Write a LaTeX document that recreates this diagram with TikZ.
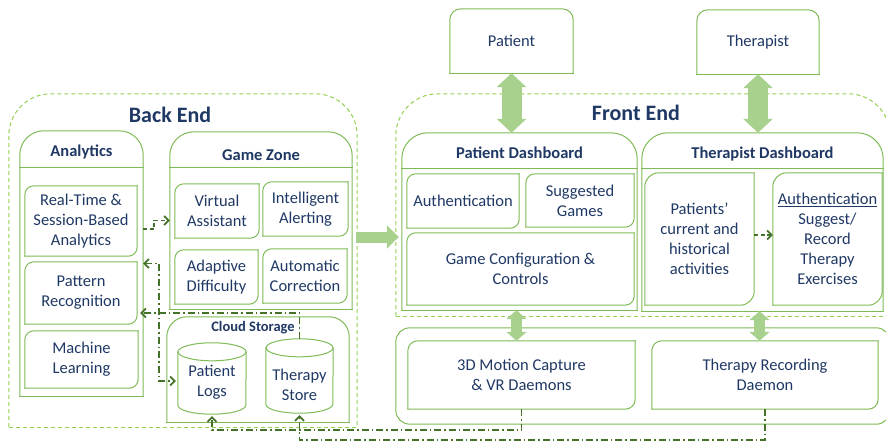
\documentclass[tikz,border=0pt]{standalone}
\usepackage{fontspec}
\setmainfont{Carlito}
\usetikzlibrary{arrows.meta,calc}
\definecolor{bline}{RGB}{126,186,86}
\definecolor{dline}{RGB}{146,208,80}
\definecolor{navy}{RGB}{31,56,100}
\definecolor{conn}{RGB}{68,114,42}
\definecolor{barrow}{RGB}{169,209,142}
\tikzset{
 boxline/.style={draw=bline, line width=1pt, line cap=rect},
 bx/.style 2 args={inner sep=0pt, align=center, text=navy, font=\fontsize{16.5}{20}\selectfont, minimum width=#1pt, minimum height=#2pt},
 txt/.style={inner sep=0pt, align=center, text=navy, font=\fontsize{16.5}{20}\selectfont},
 hdr/.style={inner sep=0pt, text=navy, font=\fontsize{16.5}{20}\selectfont\bfseries},
 ttl/.style={inner sep=0pt, text=navy, font=\fontsize{22}{26}\selectfont\bfseries},
 outerdash/.style={draw=dline, line width=1pt, dash pattern=on 4pt off 3pt},
 dconn/.style={draw=conn, line width=1.7pt, dash pattern=on 4pt off 2.5pt},
 ddconn/.style={draw=conn, line width=1.7pt, dash pattern=on 7pt off 3pt on 1.5pt off 3pt},
 barb/.tip={Straight Barb[length=4.5pt,width=9pt]},
 bigarrow/.style={draw=barrow, line width=20pt, {Triangle[length=14pt,width=29pt]}-{Triangle[length=14pt,width=29pt]}},
 smallarrow/.style={draw=barrow, line width=11pt, {Triangle[length=9pt,width=20pt]}-{Triangle[length=9pt,width=20pt]}},
 rarrow/.style={draw=barrow, line width=11pt, -{Triangle[length=12pt,width=23pt]}}
}
\newcommand\rdiag[2][9pt]{%
 \draw[boxline,rounded corners=#1] (#2.north east) -- (#2.north west) -- (#2.south west);
 \draw[boxline,rounded corners=#1] (#2.south west) -- (#2.south east) -- (#2.north east);}
\newcommand\rtop[2][24pt]{%
 \draw[boxline,rounded corners=#1] (#2.south west) -- (#2.north west) -- (#2.north east) -- (#2.south east);
 \draw[boxline] (#2.south west) -- (#2.south east);}
\newcommand\hdrline[2]{%
 \draw[boxline] ([yshift=-#2]#1.north west) -- ([yshift=-#2]#1.north east);}
\newcommand\cyl[3]{%
 \draw[boxline] ([yshift=-#3]#1.north) ellipse[x radius=#2, y radius=#3];
 \draw[boxline] ([yshift=-#3]#1.north west) -- ([yshift=#3]#1.south west) arc[start angle=180,end angle=360,x radius=#2,y radius=#3] -- ([yshift=-#3]#1.north east);}
\begin{document}
\begin{tikzpicture}[x=1pt,y=-1pt]
\useasboundingbox (0,0) rectangle (886,442);
% outer dashed regions
\node[bx={348}{333}] (be) at (183,260.5) {};
\node[bx={494}{222}] (fe) at (643,205) {};
\draw[outerdash,rounded corners=42pt] (be.south west) -- (be.north west) -- (be.north east) -- (be.south east);
\draw[outerdash] (be.south west) -- (be.south east);
\draw[outerdash,rounded corners=42pt] (fe.south west) -- (fe.north west) -- (fe.north east) -- (fe.south east);
\draw[outerdash] (fe.south west) -- (fe.south east);
\node[ttl] (beT) at (170,115) {Back End};
\node[ttl] (feT) at (636,113) {Front End};
% Analytics
\node[bx={123}{265}] (an) at (81.5,263.5) {};
\rtop{an}\hdrline{an}{37pt}
\node[hdr] (anT) at (81.5,152) {Analytics};
\node[bx={112}{70}] (rt) at (81,221) {Real-Time \&\\Session-Based\\Analytics};
\node[bx={112}{62}] (pr) at (81,293) {Pattern\\Recognition};
\node[bx={113}{57}] (ml) at (81.5,359.5) {Machine\\Learning};
\rdiag{rt}\rdiag{pr}\rdiag{ml}
% Game Zone
\node[bx={182}{177}] (gz) at (261,220.5) {};
\rtop{gz}\hdrline{gz}{36pt}
\node[hdr] (gzT) at (261,155) {Game Zone};
\node[bx={84}{54}] (va) at (217,211) {Virtual\\Assistant};
\node[bx={85}{54}] (ia) at (305.5,209) {Intelligent\\Alerting};
\node[bx={83}{54}] (ad) at (216.5,277) {Adaptive\\Difficulty};
\node[bx={84}{54}] (ac) at (305,276) {Automatic\\Correction};
\rdiag{va}\rdiag{ia}\rdiag{ad}\rdiag{ac}
% Cloud storage
\node[bx={182}{105}] (cs) at (258,369.5) {};
\rtop[20pt]{cs}
\node[hdr,font=\fontsize{14.5}{17}\selectfont\bfseries] (csT) at (253,328) {Cloud Storage};
\node[bx={68}{71}] (pl) at (212,378.5) {};
\node[bx={67}{74}] (ts) at (299.5,376) {};
\cyl{pl}{34pt}{9pt}
\cyl{ts}{33.5pt}{9pt}
\node[txt] (plx) at (212,382) {Patient\\Logs};
\node[txt] (tsx) at (299.5,385) {Therapy\\Store};
% Patient dashboard
\node[bx={235}{177}] (pd) at (519.5,221.5) {};
\rtop[26pt]{pd}\hdrline{pd}{36pt}
\node[hdr] (pdT) at (519.5,153) {Patient Dashboard};
\node[bx={112}{54}] (au) at (463,201) {Authentication};
\node[bx={108}{53}] (sg) at (580,200.5) {Suggested\\Games};
\node[bx={227}{72}] (gc) at (520.5,269) {Game Configuration \&\\Controls};
\rdiag{au}\rdiag{sg}\rdiag{gc}
% Therapist dashboard
\node[bx={241}{178}] (td) at (762.5,222) {};
\rtop[26pt]{td}\hdrline{td}{36pt}
\node[hdr] (tdT) at (762.5,154) {Therapist Dashboard};
\node[bx={109}{132}] (pc) at (699.5,239) {Patients’\\current and\\historical\\activities};
\node[bx={109}{132}] (as) at (827.5,239) {\underline{Authentication}\\Suggest/\\Record\\Therapy\\Exercises};
\rdiag[14pt]{pc}\rdiag[14pt]{as}
% bottom daemons
\node[bx={494}{96}] (bf) at (643,376) {};
\draw[boxline,rounded corners=14pt] (bf.north west) rectangle (bf.south east);
\node[bx={227}{68}] (m3) at (521.5,375) {3D Motion Capture\\\& VR Daemons};
\node[bx={226}{68}] (trd) at (765,375) {Therapy Recording\\Daemon};
\rdiag[10pt]{m3}\rdiag[10pt]{trd}
% users
\node[bx={123}{64}] (pat) at (511.5,41) {Patient};
\node[bx={122}{64}] (ther) at (758,42) {Therapist};
\draw[boxline,rounded corners=11pt] (pat.south west) -- (pat.north west) -- (pat.north east) -- (pat.south east);
\draw[boxline] (pat.south west) -- (pat.south east);
\draw[boxline,rounded corners=11pt] (ther.south west) -- (ther.north west) -- (ther.north east) -- (ther.south east);
\draw[boxline] (ther.south west) -- (ther.south east);
% block arrows
\draw[bigarrow] (pat.south) -- (pat.south |- pd.north);
\draw[bigarrow] (ther.south) -- (ther.south |- td.north);
\draw[smallarrow] ([xshift=-3pt]pd.south) -- ([xshift=-3pt]pd.south |- m3.north);
\draw[smallarrow] ([xshift=-3pt]td.south) -- ([xshift=-3pt]td.south |- trd.north);
\draw[rarrow] ([xshift=-1pt,yshift=23.5pt]be.east) -- ([xshift=3pt,yshift=-32pt]fe.west);
% connectors
\draw[dconn,-{barb}] ([yshift=34.5pt]an.east) -- ++(11,0) |- (gz.west);
\draw[ddconn,{barb}-{barb}] (an.east) -- ++(16,0) |- ([xshift=-2pt,yshift=-2.5pt]pl.west);
\draw[ddconn,-{barb}] (ts.north) |- ([yshift=-20pt,xshift=3pt]pr.east);
\draw[ddconn,-{barb}] (m3.south) -- ++(0,21) -| ([yshift=-2pt]pl.south);
\draw[ddconn,-{barb}] (trd.south) -- ++(0,31) -| ([yshift=-2pt]ts.south);
\draw[dconn,-{barb}] ([yshift=4pt]pc.east) -- ([yshift=4pt]as.west);
\end{tikzpicture}
\end{document}
